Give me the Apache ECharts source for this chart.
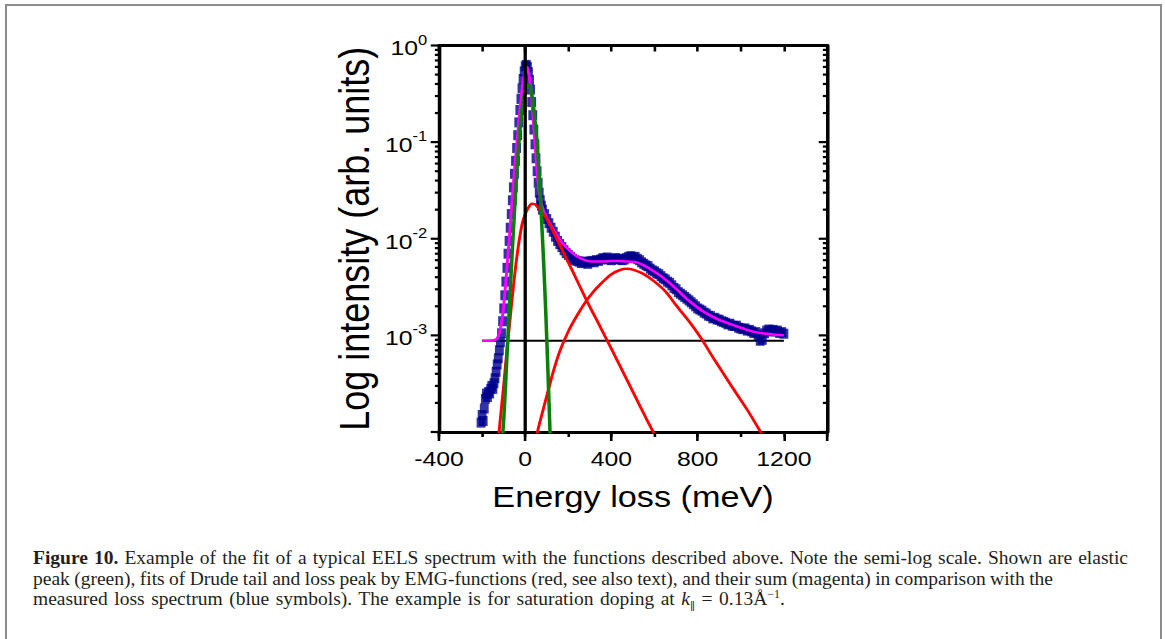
<!DOCTYPE html>
<html><head><meta charset="utf-8">
<script src="https://cdn.jsdelivr.net/npm/echarts@6/dist/echarts.min.js"></script>
<style>
html,body{margin:0;padding:0;background:#fff;width:1165px;height:639px;overflow:hidden;position:relative;}
#frame{position:absolute;left:5px;top:4px;width:1157px;height:700px;border:2px solid #8c8c8c;box-sizing:border-box;}
#chart{position:absolute;left:0;top:0;width:988px;height:639px;transform:scaleX(1.18);transform-origin:0 0;}
#caption{position:absolute;left:33px;top:548px;font-family:'Liberation Serif','Times New Roman',serif;font-size:19.5px;line-height:20.5px;color:#231f20;}
.ln{white-space:nowrap;}
sub,sup{line-height:0;font-size:12px;}
.par{font-family:'DejaVu Serif',serif;font-size:11px;}
</style></head><body>
<div id="frame"></div>
<div id="chart"></div>
<div id="caption">
<div class="ln" data-w="1095"><b>Figure 10.</b> Example of the fit of a typical EELS spectrum with the functions described above. Note the semi-log scale. Shown are elastic</div>
<div class="ln" data-w="1020">peak (green), fits of Drude tail and loss peak by EMG-functions (red, see also text), and their sum (magenta) in comparison with the</div>
<div class="ln" data-w="752">measured loss spectrum (blue symbols). The example is for saturation doping at <i>k</i><sub class="par">∥</sub> = 0.13Å<sup>−1</sup>.</div>
</div>
<script>
// ---------- data ----------
const xTickLabels = [-400, 0, 400, 800, 1200];
const yDecades = [1e-4, 1e-3, 1e-2, 1e-1, 1];

const measured = [
[-205,1.25e-4],[-200,1.5e-4],[-195,1.3e-4],[-190,1.75e-4],[-185,2.2e-4],[-180,2.5e-4],[-175,2.3e-4],[-170,2.6e-4],
[-165,2.5e-4],[-160,2.8e-4],[-155,3.0e-4],[-150,2.8e-4],[-145,3.2e-4],[-140,3.6e-4],[-135,4.2e-4],[-130,5.0e-4],
[-125,5.8e-4],[-120,7.0e-4],[-115,8.5e-4],[-110,1.05e-3],[-105,1.4e-3],[-100,1.9e-3],[-95,2.6e-3],[-90,3.6e-3],
[-85,5.0e-3],[-80,7.0e-3],[-75,9.5e-3],[-70,0.013],[-65,0.018],[-60,0.025],[-55,0.034],[-50,0.047],[-45,0.064],
[-40,0.087],[-35,0.118],[-30,0.16],[-25,0.215],[-20,0.28],[-15,0.36],[-10,0.45],[-5,0.54],[0,0.61],[5,0.63],
[10,0.6],[15,0.53],[20,0.44],[25,0.35],[30,0.26],[35,0.19],[40,0.135],[45,0.095],[50,0.068],[55,0.05],[60,0.038],
[65,0.03],[70,0.025],[75,0.022],[80,0.02],[90,0.018],[100,0.016],[110,0.0145],[120,0.013],[130,0.0118],[140,0.0105],
[150,0.0095],[160,0.0088],[170,0.0082],[180,0.0076],[190,0.0071],[200,0.0068],[210,0.0065],[220,0.0062],[230,0.006],
[240,0.0059],[250,0.0058],[260,0.0056],[270,0.0058],[280,0.0057],[290,0.0055],[300,0.0058],[310,0.0059],[320,0.0057],
[330,0.006],[340,0.0059],[350,0.0061],[360,0.0063],[370,0.0062],[380,0.0064],[390,0.0061],[400,0.006],[410,0.0062],
[420,0.0063],[430,0.0061],[440,0.0062],[450,0.006],[460,0.0061],[470,0.0063],[480,0.0065],[490,0.0066],[500,0.0064],
[510,0.0065],[520,0.0062],[530,0.006],[540,0.0057],[550,0.0055],[560,0.0053],[570,0.0052],[580,0.0049],[590,0.0047],
[600,0.0046],[610,0.0044],[620,0.0043],[630,0.0041],[640,0.0039],[650,0.0038],[660,0.0036],[670,0.0035],[680,0.0033],
[690,0.0031],[700,0.003],[710,0.0028],[720,0.0027],[730,0.0026],[740,0.0025],[750,0.0024],[760,0.0023],[770,0.0022],
[780,0.0021],[790,0.002],[800,0.0019],[810,0.00185],[820,0.0018],[830,0.00172],[840,0.00168],[850,0.0016],[860,0.00158],
[870,0.0015],[880,0.00152],[890,0.00146],[900,0.00145],[910,0.0014],[920,0.00138],[930,0.00135],[940,0.0013],[950,0.00132],
[960,0.00126],[970,0.00125],[980,0.00126],[990,0.0012],[1000,0.00118],[1010,0.00116],[1020,0.00118],[1030,0.00112],
[1040,0.00114],[1050,0.0011],[1060,0.00106],[1070,0.00108],[1080,0.001],[1090,0.00088],[1100,0.0009],[1110,0.00105],
[1120,0.00112],[1130,0.00115],[1140,0.0011],[1150,0.00114],[1160,0.0011],[1170,0.00112],[1180,0.00106],[1190,0.00108],[1200,0.00104]
];

const elasticPeak = [
[-112,6e-5],[-100,1.3e-4],[-90,3.5e-4],[-80,1.0e-3],[-70,2.8e-3],[-60,7.5e-3],[-50,0.019],[-40,0.045],[-30,0.095],
[-20,0.17],[-10,0.26],[0,0.34],[10,0.385],[18,0.39],[25,0.36],[35,0.27],[45,0.17],[55,0.1],[65,0.045],[75,0.017],
[85,6e-3],[95,1.8e-3],[105,4.5e-4],[115,1e-4],[125,2e-5]
];

const drudeTail = [
[-128,7e-5],[-115,1.4e-4],[-100,3e-4],[-85,7e-4],[-70,1.5e-3],[-55,3.2e-3],[-35,7.5e-3],[-15,0.014],[0,0.018],
[15,0.021],[30,0.023],[45,0.0228],[60,0.021],[80,0.0185],[100,0.016],[130,0.0118],[170,7.8e-3],[220,4.6e-3],
[285,2.3e-3],[350,1.2e-3],[420,5.9e-4],[500,2.6e-4],[560,1.4e-4],[610,8.5e-5]
];

const lossPeak = [
[45,6e-5],[57,1e-4],[80,1.6e-4],[107,2.7e-4],[130,4.2e-4],[161,6.9e-4],[200,1.1e-3],[240,1.6e-3],[285,2.3e-3],
[320,2.9e-3],[361,3.6e-3],[400,4.3e-3],[440,4.75e-3],[469,4.9e-3],[500,4.8e-3],[550,4.3e-3],[600,3.6e-3],
[654,2.8e-3],[700,2.05e-3],[760,1.4e-3],[815,9.4e-4],[880,5.5e-4],[961,2.9e-4],[1030,1.7e-4],[1092,1e-4],[1110,8.5e-5]
];

const sumFit = [
[-200,8.8e-4],[-170,8.8e-4],[-145,8.9e-4],[-130,9.3e-4],[-120,1.05e-3],[-110,1.35e-3],[-100,2.0e-3],[-90,3.6e-3],
[-80,6.8e-3],[-70,0.013],[-60,0.026],[-50,0.05],[-40,0.09],[-30,0.16],[-20,0.27],[-10,0.42],[0,0.57],[5,0.6],
[10,0.59],[20,0.46],[30,0.28],[40,0.14],[50,0.07],[60,0.038],[70,0.026],[80,0.021],[100,0.0165],[129,0.0126],
[160,0.0098],[180,0.0086],[208,0.0075],[240,0.0066],[286,0.0059],[320,0.0058],[360,0.0058],[400,0.0059],[438,0.0059],
[480,0.0058],[517,0.0057],[550,0.0053],[591,0.0047],[630,0.0041],[669,0.0035],[710,0.0029],[748,0.0024],[780,0.0021],
[821,0.0018],[860,0.0016],[900,0.00145],[940,0.00134],[978,0.00125],[1015,0.00117],[1052,0.0011],[1100,0.00105],
[1150,0.00102],[1200,0.001]
];

const baseline = [[-200,8.8e-4],[1200,8.8e-4]];
const zeroLine = [[0,1e-4],[0,1]];

// ---------- chart ----------
const S = 1.18;
const FONT = "'Liberation Sans', Arial, sans-serif";
const X_MIN = -400, X_MAX = 1400;
// y tick positions: [x(anchor), value, isMajor]
const yTicks = [];
for (let i = 0; i < yDecades.length; i++) {
  yTicks.push([X_MIN, yDecades[i], 1]);
  if (i < yDecades.length - 1) for (let k = 2; k <= 9; k++) yTicks.push([X_MIN, +(yDecades[i]*k).toPrecision(3), 0]);
}

const black = '#000';
const lineW = 3;
function yAx(pos, withLabel){
  const a = {
    type:'log', logBase:10, min:1e-4, max:1, position:pos, splitNumber:4,
    axisLine:{show:true,onZero:false,lineStyle:{color:black,width:lineW}},
    axisTick:{show:false},
    axisLabel:{show:false},
    splitLine:{show:false}, minorTick:{show:false}, minorSplitLine:{show:false}
  };
  if (withLabel) {
    a.axisLabel = {
      show:true, margin:10,
      formatter: v => { const e = Math.round(Math.log10(v)); return e === -4 ? '' : '{b|10}{s|' + e + '}'; },
      rich:{
        b:{fontFamily:FONT,fontSize:21,color:black,verticalAlign:'bottom',lineHeight:26},
        s:{fontFamily:FONT,fontSize:14,color:black,verticalAlign:'top',lineHeight:14}
      }
    };
    a.name = 'Log intensity (arb. units)';
    a.nameLocation = 'middle';
    a.nameGap = 54;
    a.nameTextStyle = {fontFamily:FONT,fontSize:36,color:black};
  }
  return a;
}

const option = {
  animation:false,
  backgroundColor:'transparent',
  grid:{left:439/S, top:45.5, width:388/S, height:386.5, containLabel:false, outerBoundsMode:'none'},
  xAxis:[
    {type:'value', position:'bottom', min:X_MIN, max:X_MAX, interval:400,
     axisLine:{show:true,onZero:false,lineStyle:{color:black,width:lineW}},
     axisTick:{show:true,length:9,lineStyle:{color:black,width:2.2}},
     axisLabel:{show:true,margin:16,fontFamily:FONT,fontSize:21,color:black,
       formatter: v => xTickLabels.indexOf(v) >= 0 ? String(v) : ''},
     splitLine:{show:false},
     name:'Energy loss (meV)', nameLocation:'middle', nameGap:50,
     nameTextStyle:{fontFamily:FONT,fontSize:29,color:black}},
    {type:'value', position:'bottom', min:X_MIN, max:X_MAX, interval:200,
     axisLine:{show:false,onZero:false}, axisTick:{show:true,length:5,lineStyle:{color:black,width:2.2}},
     axisLabel:{show:false}, splitLine:{show:false}},
    {type:'value', position:'top', min:X_MIN, max:X_MAX, interval:200,
     axisLine:{show:true,onZero:false,lineStyle:{color:black,width:lineW}},
     axisTick:{show:true,inside:true,length:6,lineStyle:{color:black,width:2.2}},
     axisLabel:{show:false}, splitLine:{show:false}}
  ],
  yAxis:[ yAx('left', true), yAx('right', false) ],
  series:[
    {type:'line', data:baseline, symbol:'none', lineStyle:{color:black,width:2}, z:1, silent:true},
    {type:'scatter', data:measured, symbol:'rect', symbolSize:[7.5,10], itemStyle:{color:'#00008c'}, z:2, silent:true},
    {type:'line', data:sumFit, symbol:'none', smooth:0.25, lineStyle:{color:'#ff00ff',width:2.5}, z:3, silent:true},
    {type:'line', data:drudeTail, symbol:'none', smooth:0.25, lineStyle:{color:'#ff0000',width:2.5}, z:4, silent:true},
    {type:'line', data:lossPeak, symbol:'none', smooth:0.25, lineStyle:{color:'#ff0000',width:2.5}, z:4, silent:true},
    {type:'line', data:elasticPeak, symbol:'none', smooth:0.25, lineStyle:{color:'#0a800a',width:3}, z:5, silent:true},
    {type:'line', data:zeroLine, symbol:'none', lineStyle:{color:black,width:2.8}, z:6, silent:true},
    {type:'custom', data:yTicks, clip:false, silent:true, z:7,
     renderItem:(params, api) => {
       const v = api.value(1), major = api.value(2);
       const pL = api.coord([X_MIN, v]), pR = api.coord([X_MAX, v]);
       const len = major ? 7 : 3.5;
       const st = {stroke:black, lineWidth:2.2};
       return {type:'group', children:[
         {type:'line', shape:{x1:pL[0]-len, y1:pL[1], x2:pL[0], y2:pL[1]}, style:st},
         {type:'line', shape:{x1:pR[0]-len, y1:pR[1], x2:pR[0], y2:pR[1]}, style:st}
       ]};
     }}
  ]
};
const chart = echarts.init(document.getElementById('chart'), null, {renderer:'svg'});
chart.setOption(option);

// caption line fitting
document.querySelectorAll('.ln').forEach(el => {
  el.style.display = 'inline-block';
  const w = el.getBoundingClientRect().width;
  const spaces = (el.textContent.match(/ /g) || []).length;
  el.style.wordSpacing = ((+el.dataset.w - w) / spaces) + 'px';
  el.style.display = 'block';
});
</script>
</body></html>
